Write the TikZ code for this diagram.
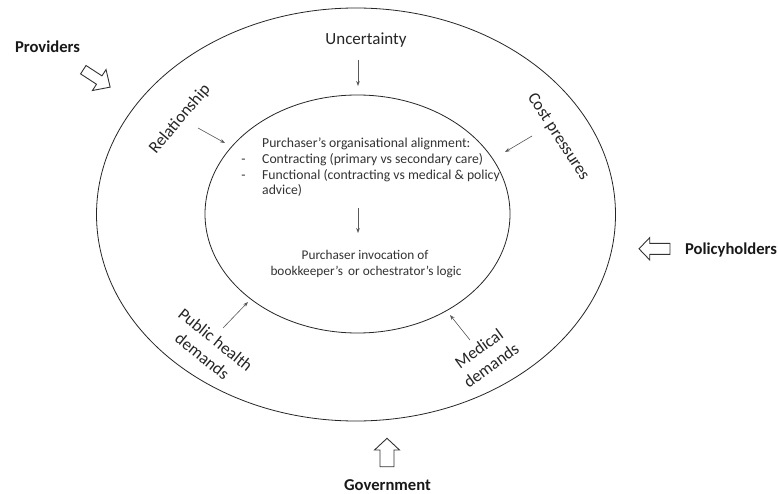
\documentclass[tikz,border=0pt]{standalone}
\usepackage{fontspec}
\setmainfont{Carlito}
\usetikzlibrary{shapes.geometric,arrows.meta}
\tikzset{
  ring/.style={draw=black!85, line width=0.8pt, ellipse, inner sep=0pt},
  lbl/.style={font=\fontsize{17}{21}\selectfont, text=black!85, align=center, inner sep=0pt},
  actor/.style={font=\fontsize{16.6}{20}\selectfont\bfseries, text=black!90, inner sep=0pt},
  body/.style={font=\fontsize{13.7}{16}\selectfont, text=black!80, inner sep=0pt},
  flow/.style={draw=black!65, line width=0.6pt, -{Stealth[length=5pt,width=3.6pt]}},
  hollow/.style={draw=black!80, line width=0.9pt, fill=white, line join=miter},
  pics/blockarrow/.style n args={4}{code={
    \draw[hollow] (0,-#3/2) -- (#1-#4,-#3/2) -- (#1-#4,-#2/2) -- (#1,0)
      -- (#1-#4,#2/2) -- (#1-#4,#3/2) -- (0,#3/2) -- cycle;
  }}
}
\begin{document}
\begin{tikzpicture}[x=1pt,y=-1pt]
\useasboundingbox (0,0) rectangle (778,494);
\fill[white] (0,0) rectangle (778,494);

% rings
\node[ring, minimum width=519pt, minimum height=413pt] (outer) at (356,214.5) {};
\node[ring, minimum width=305pt, minimum height=238pt] (inner) at (357.5,214) {};

% outer labels
\node[lbl] (unc) at (366,40) {Uncertainty};
\node[lbl, rotate=50] (rel) at (180,119) {Relationship};
\node[lbl, rotate=-57] (cost) at (558,137) {Cost pressures};
\node[lbl, rotate=-39] (pub) at (209,348) {Public health\\demands};
\node[lbl, rotate=36] (med) at (485,357) {Medical\\demands};

% inner text
\node[body, anchor=mid west] (l1) at (262,145) {Purchaser’s organisational alignment:};
\node[body, anchor=mid west] (l2) at (262,161) {Contracting (primary vs secondary care)};
\node[body, anchor=mid west] (l3) at (262,177) {Functional (contracting vs medical \& policy};
\node[body, anchor=mid west] (l4) at (262,192.5) {advice)};
\node[body, anchor=mid] (d2) at (243.5,161) {-};
\node[body, anchor=mid] (d3) at (243.5,177) {-};
\node[body, anchor=mid, font=\fontsize{13.3}{16}\selectfont] (r1) at (365,257) {Purchaser invocation of};
\node[body, anchor=mid, font=\fontsize{13.3}{16}\selectfont] (r2) at (366,273) {bookkeeper’s\, or ochestrator’s logic};

% actors
\node[actor] (prov) at (47.5,47) {Providers};
\node[actor] (pol) at (731,250) {Policyholders};
\node[actor] (gov) at (387.5,485.5) {Government};

% arrow end points
\coordinate (uncA) at (358,60);   \coordinate (uncB) at (358,86);
\coordinate (relA) at (198,128);  \coordinate (relB) at (225,143);
\coordinate (costA) at (532,136); \coordinate (costB) at (505,152);
\coordinate (midA) at (358,208);  \coordinate (midB) at (358,233);
\coordinate (pubA) at (223,328);  \coordinate (pubB) at (248,302);
\coordinate (medA) at (470,340);  \coordinate (medB) at (450,315);

\draw[flow] (uncA) -- (uncB);
\draw[flow] (relA) -- (relB);
\draw[flow] (costA) -- (costB);
\draw[flow] (midA) -- (midB);
\draw[flow] (pubA) -- (pubB);
\draw[flow] (medA) -- (medB);

% block arrows
\pic[rotate=-33] at (83.3,69.7) {blockarrow={32}{25}{10}{13}};
\pic[rotate=180] at (670,248.8) {blockarrow={31}{22.3}{11}{10.7}};
\pic[rotate=90] at (387,466.7) {blockarrow={28.4}{25}{14}{11.7}};
\end{tikzpicture}
\end{document}
